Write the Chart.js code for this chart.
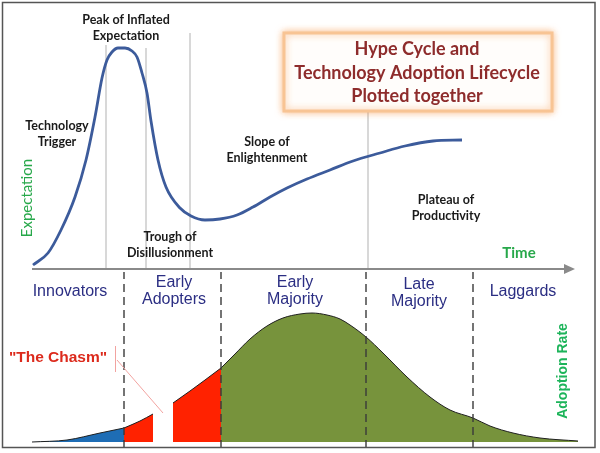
<!DOCTYPE html>
<html>
<head>
<meta charset="utf-8">
<script src="https://cdn.jsdelivr.net/npm/chart.js@4.4.1/dist/chart.umd.min.js"></script>
<style>
    html, body { margin: 0; padding: 0; background: #ffffff; }
    #lienzo { display: block; }
</style>
</head>
<body>
<canvas id="lienzo" width="600" height="453"></canvas>
<script>
// Curva de expectativas (hype cycle): tiempo vs expectativa
const hypeTiempo = [33, 48, 61, 75, 86, 95, 102, 107, 112, 118, 125, 132, 137, 142, 147, 151, 158, 166, 180, 191, 205, 220, 237, 253, 270, 287, 307, 330, 353, 380, 405, 433, 462];
const hypeExpectativa = [4, 16, 39, 72, 109, 152, 191, 209, 217, 221, 221, 218, 212, 196, 176, 148, 109, 82, 61, 53, 49, 50, 54, 62, 72, 81, 90, 99, 108, 116, 123, 128, 129];

// Lineas grises que separan las fases del hype cycle
const fasesTiempo = [106, 146, 190, 368];
const fasesAltura = [224, 221, 236, 157];

// Curva de adopcion, por tramos
const innovadoresTiempo = [32, 67, 100, 124];
const innovadoresTasa = [0, 2, 9, 14];
const tempranosTiempoA = [124, 140, 153];
const tempranosTasaA = [14, 21, 28];
const tempranosTiempoB = [173, 190, 205, 221];
const tempranosTasaB = [39, 51, 62, 74];
const mayoriaTiempo = [221, 235, 250, 267, 283, 300, 312, 327, 340, 350, 366, 383, 407, 430, 450, 473, 490, 513, 540, 578];
const mayoriaTasa = [74, 88, 103, 116, 124, 128, 129, 127, 123, 117, 105, 89, 65, 45, 32, 24, 16, 9, 4, 1];

// Limites entre grupos de adoptantes (lineas discontinuas)
const gruposLimites = [124, 221, 366, 473];
const gruposNombres = [['Innovators'], ['Early', 'Adopters'], ['Early', 'Majority'], ['Late', 'Majority'], ['Laggards']];

// Nombres de las fases del hype cycle
const fasesNombres = [
    ['Peak of Inflated', 'Expectation'],
    ['Technology', 'Trigger'],
    ['Trough of', 'Disillusionment'],
    ['Slope of', 'Enlightenment'],
    ['Plateau of', 'Productivity']
];

// Posiciones de los textos (solo maquetacion)
const posFases = [[126, 20], [57, 126], [170, 237], [267, 142], [446, 200]];
const posGrupos = [[70, 292], [174, 283], [295, 283], [419, 285], [523, 292]];

function puntos(xs, ys) {
    return xs.map(function(x, i) {
        return { x: x, y: ys[i] };
    });
}

var datasets = [];

// Curva del hype cycle
datasets.push({
    data: puntos(hypeTiempo, hypeExpectativa),
    yAxisID: 'yHype',
    borderColor: '#3c5b9b',
    borderWidth: 2.8,
    pointRadius: 0,
    cubicInterpolationMode: 'monotone',
    fill: false,
    order: 1
});

// Lineas grises de fases
fasesTiempo.forEach(function(t, i) {
    datasets.push({
        data: [{ x: t, y: 0 }, { x: t, y: fasesAltura[i] }],
        yAxisID: 'yHype',
        borderColor: '#cfcfcf',
        borderWidth: 1.6,
        pointRadius: 0,
        fill: false,
        order: 5
    });
});

// Lineas discontinuas entre grupos
gruposLimites.forEach(function(t) {
    datasets.push({
        data: [{ x: t, y: -6 }, { x: t, y: 170 }],
        yAxisID: 'yAdop',
        borderColor: '#3a3a3a',
        borderWidth: 1.4,
        borderDash: [8, 5],
        pointRadius: 0,
        fill: false,
        order: 2
    });
});

// Tramos rellenos de la curva de adopcion
var tramos = [
    [innovadoresTiempo, innovadoresTasa, '#1e6db5'],
    [tempranosTiempoA, tempranosTasaA, '#ff2200'],
    [tempranosTiempoB, tempranosTasaB, '#ff2200'],
    [mayoriaTiempo, mayoriaTasa, '#77933c']
];
tramos.forEach(function(tr) {
    datasets.push({
        data: puntos(tr[0], tr[1]),
        yAxisID: 'yAdop',
        borderColor: '#1f1f1f',
        borderWidth: 1,
        backgroundColor: tr[2],
        pointRadius: 0,
        cubicInterpolationMode: 'monotone',
        fill: { value: 0 },
        order: 3
    });
});

// Textos, eje del tiempo, recuadro del titulo y marco
const decoraciones = {
    id: 'decoraciones',
    afterDraw(chart) {
        const ctx = chart.ctx;
        const sx = chart.scales.x;
        const yH = chart.scales.yHype;
        ctx.save();

        // Eje del tiempo con flecha
        var ejeY = yH.getPixelForValue(0);
        var ejeIni = sx.getPixelForValue(32);
        var ejeFin = sx.getPixelForValue(575);
        ctx.strokeStyle = '#8a8a8a';
        ctx.fillStyle = '#8a8a8a';
        ctx.lineWidth = 2.2;
        ctx.beginPath();
        ctx.moveTo(ejeIni, ejeY);
        ctx.lineTo(ejeFin - 8, ejeY);
        ctx.stroke();
        ctx.beginPath();
        ctx.moveTo(ejeFin, ejeY);
        ctx.lineTo(ejeFin - 11, ejeY - 5);
        ctx.lineTo(ejeFin - 11, ejeY + 5);
        ctx.closePath();
        ctx.fill();

        // Nombres de las fases
        ctx.fillStyle = '#1a1a1a';
        ctx.font = 'bold 12.5px Lato';
        ctx.textAlign = 'center';
        ctx.textBaseline = 'middle';
        fasesNombres.forEach(function(lineas, i) {
            lineas.forEach(function(l, j) {
                ctx.fillText(l, posFases[i][0], posFases[i][1] + j * 15.5);
            });
        });

        // Nombres de los grupos
        ctx.fillStyle = '#2b2e83';
        ctx.font = '16px "Liberation Sans", Arial';
        gruposNombres.forEach(function(lineas, i) {
            lineas.forEach(function(l, j) {
                ctx.fillText(l, posGrupos[i][0], posGrupos[i][1] + j * 16.5);
            });
        });

        // Titulos de los ejes
        ctx.fillStyle = '#27a84a';
        ctx.font = 'bold 15px Lato';
        ctx.fillText('Time', 519, 253);
        ctx.save();
        ctx.translate(27, 198);
        ctx.rotate(-Math.PI / 2);
        ctx.font = '15px Lato';
        ctx.fillText('Expectation', 0, 0);
        ctx.restore();
        ctx.save();
        ctx.translate(563, 371);
        ctx.rotate(-Math.PI / 2);
        ctx.fillStyle = '#1db45a';
        ctx.font = 'bold 14px "Liberation Sans", Arial';
        ctx.fillText('Adoption Rate', 0, 0);
        ctx.restore();

        // "The Chasm" y su indicador
        ctx.fillStyle = '#dc2a1c';
        ctx.font = 'bold 15.5px "Liberation Sans", Arial';
        ctx.fillText('"The Chasm"', 58, 358);
        ctx.strokeStyle = '#f2a3a0';
        ctx.lineWidth = 1;
        ctx.beginPath();
        ctx.moveTo(115.5, 346);
        ctx.lineTo(115.5, 372);
        ctx.moveTo(117, 360);
        ctx.lineTo(163, 413);
        ctx.stroke();

        // Recuadro del titulo
        ctx.save();
        ctx.shadowColor = 'rgba(246, 150, 70, 0.6)';
        ctx.shadowBlur = 7;
        ctx.fillStyle = '#fffdfb';
        ctx.fillRect(284, 33, 268, 78);
        ctx.strokeStyle = '#f8c494';
        ctx.lineWidth = 3;
        ctx.strokeRect(284, 33, 268, 78);
        ctx.restore();
        ctx.fillStyle = '#8e2c2c';
        ctx.font = 'bold 18px Lato';
        ctx.fillText('Hype Cycle and', 417, 49);
        ctx.fillText('Technology Adoption Lifecycle', 417, 73);
        ctx.fillText('Plotted together', 417, 96);

        // Marco exterior
        ctx.strokeStyle = '#555555';
        ctx.lineWidth = 1.5;
        ctx.strokeRect(2.5, 2.5, 592.5, 445);
        ctx.restore();
    }
};

var ctx = document.getElementById('lienzo').getContext('2d');
var grafico = new Chart(ctx, {
    type: 'line',
    data: { datasets: datasets },
    options: {
        responsive: false,
        animation: false,
        layout: { padding: 0 },
        plugins: {
            legend: { display: false },
            tooltip: { enabled: false }
        },
        scales: {
            x: { type: 'linear', min: 0, max: 600, display: false },
            yHype: { type: 'linear', min: -184, max: 269, display: false },
            yAdop: { type: 'linear', min: -11, max: 442, display: false }
        }
    },
    plugins: [decoraciones]
});
</script>
</body>
</html>
